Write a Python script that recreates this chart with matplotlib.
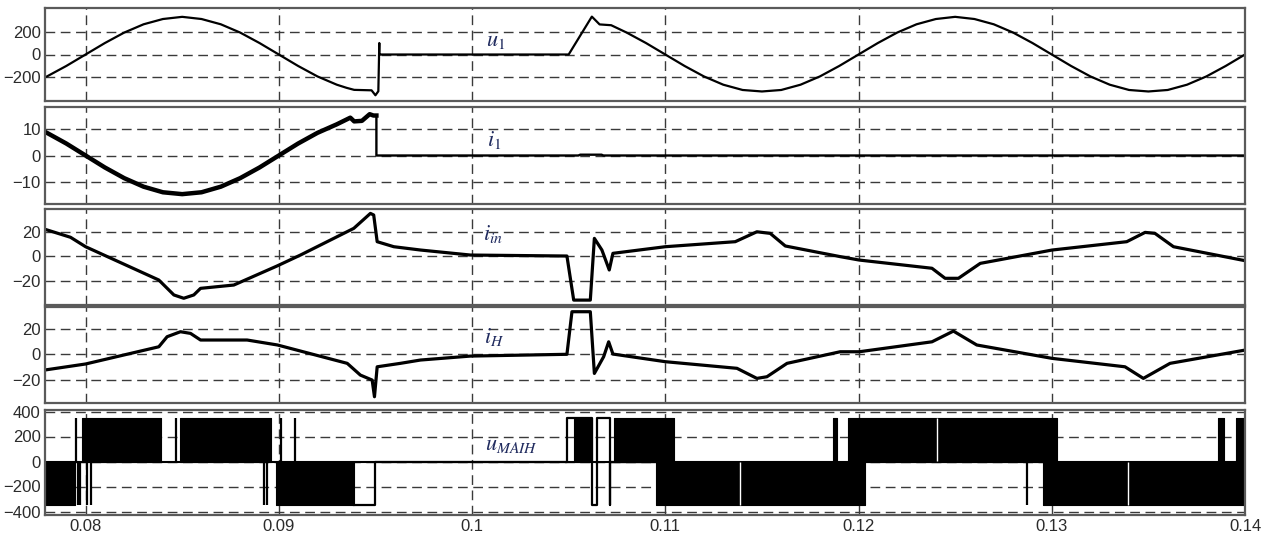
import matplotlib
matplotlib.use("Agg")
import matplotlib.pyplot as plt

plt.rcParams['font.family'] = ['Liberation Sans', 'DejaVu Sans']
plt.rcParams['mathtext.fontset'] = 'stix'
plt.rcParams['lines.solid_joinstyle'] = 'round'

# time axis ticks
x_ticks = [0.08, 0.09, 0.1, 0.11, 0.12, 0.13, 0.14]
x_tick_labels = ['0.08', '0.09', '0.1', '0.11', '0.12', '0.13', '0.14']

# u1 - supply voltage
u1_t = [0.0775, 0.078, 0.079, 0.080, 0.081, 0.082, 0.083, 0.084, 0.085, 0.086,
        0.087, 0.088, 0.089, 0.090, 0.091, 0.092, 0.093, 0.0935, 0.0939, 0.0948,
        0.0950, 0.09515, 0.0952, 0.0952, 0.1050, 0.1062, 0.1066, 0.1072,
        0.108, 0.109, 0.110, 0.111, 0.112, 0.113, 0.114, 0.115, 0.116, 0.117,
        0.118, 0.119, 0.120, 0.121, 0.122, 0.123, 0.124, 0.125, 0.126, 0.127,
        0.128, 0.129, 0.130, 0.131, 0.132, 0.133, 0.134, 0.135, 0.136, 0.137,
        0.138, 0.139, 0.140]
u1_v = [-230, -191, -100, 0, 100, 191, 263, 309, 328, 309,
        263, 191, 100, 0, -100, -191, -263, -290, -308, -312,
        -355, -320, 100, 0, 0, 330, 262, 255,
        191, 100, 0, -100, -191, -263, -309, -322, -309, -263,
        -191, -100, 0, 100, 191, 263, 309, 328, 309, 263,
        191, 100, 0, -100, -191, -263, -309, -322, -309, -263,
        -191, -100, 0]

# i1 - supply current
i1_t = [0.0775, 0.078, 0.079, 0.080, 0.081, 0.082, 0.083, 0.084, 0.085, 0.086,
        0.087, 0.088, 0.089, 0.090, 0.091, 0.092, 0.093, 0.0937, 0.0939, 0.0943,
        0.0947, 0.0949, 0.09505, 0.09505, 0.1055, 0.1056, 0.1067, 0.1068, 0.140]
i1_v = [10.3, 8.5, 4.5, 0, -4.5, -8.5, -11.7, -13.8, -14.5, -13.8,
        -11.7, -8.5, -4.5, 0, 4.5, 8.5, 11.7, 14.2, 12.8, 13.0,
        15.5, 15.0, 15.0, 0, 0, 0.3, 0.3, 0, 0]
i1_split = 23

# i_in
iin_t = [0.0775, 0.07922, 0.0800, 0.08379, 0.08457, 0.08508, 0.0856, 0.08595, 0.08767,
         0.0899, 0.09112, 0.09388, 0.09474, 0.09491, 0.09509, 0.09595, 0.09733, 0.09991,
         0.10491, 0.10526, 0.10612, 0.10633, 0.10672, 0.1071, 0.10729, 0.1100, 0.11362,
         0.11474, 0.11543, 0.11621, 0.11905, 0.12004, 0.1238, 0.12448, 0.12517, 0.1263,
         0.13002, 0.13388, 0.13483, 0.13534, 0.1363, 0.1400]
iin_v = [23.8, 15.3, 7.6, -19.6, -31.8, -34.5, -31.8, -26.4, -23.7,
         -8.2, 0.8, 22.6, 34.8, 33.5, 11.7, 7.6, 4.9, 0.8,
         0.0, -36.0, -36.0, 14.4, 4.9, -11.4, 2.2, 7.6, 11.7,
         19.8, 18.5, 8.2, -0.5, -3.3, -10.0, -18.2, -18.2, -6.0,
         4.9, 11.7, 19.3, 18.5, 7.6, -3.8]

# i_H
iH_t = [0.0775, 0.0800, 0.08379, 0.08422, 0.08491, 0.08543, 0.08595, 0.08836, 0.08993,
        0.09354, 0.09422, 0.09483, 0.09495, 0.09509, 0.09629, 0.09733, 0.09991, 0.10491,
        0.10517, 0.10612, 0.10633, 0.10681, 0.10707, 0.10729, 0.1100, 0.11371, 0.11474,
        0.11526, 0.1163, 0.11905, 0.12004, 0.1238, 0.12491, 0.12612, 0.13002, 0.13379,
        0.13474, 0.13612, 0.1400]
iH_v = [-13.4, -7.8, 5.7, 13.6, 17.5, 16.2, 11.0, 11.0, 7.1,
        -7.3, -16.5, -20.4, -33.5, -10.0, -7.3, -4.7, -1.6, -0.2,
        33.2, 33.2, -15.2, -2.1, 9.6, 0.0, -6.0, -11.2, -19.1,
        -17.8, -7.3, 1.8, 1.8, 9.6, 18.0, 7.1, -3.4, -10.0,
        -19.1, -7.3, 3.1]

# u_MAIH - PWM output, switching blocks (start, end)
pwm_level = 350
pwm_pos_start = [0.0798, 0.08488, 0.10526, 0.10733, 0.11866, 0.11948, 0.13862, 0.13953]
pwm_pos_end = [0.08388, 0.0896, 0.1062, 0.11043, 0.11889, 0.13026, 0.13889, 0.1400]
pwm_neg_start = [0.0775, 0.08983, 0.10954, 0.12957]
pwm_neg_end = [0.07943, 0.09391, 0.12035, 0.1400]
pwm_pos_pulses = [0.0795, 0.0847, 0.0901, 0.09086]
pwm_neg_pulses = [0.0796, 0.0797, 0.08005, 0.0803, 0.08922, 0.0894, 0.12874]
pwm_pos_gaps = [0.12405]
pwm_neg_gaps = [0.11388, 0.13397]
pwm_hold_t = [0.09391, 0.0950, 0.0950, 0.10491, 0.10491, 0.1062, 0.1062, 0.10646,
              0.10646, 0.10716, 0.10716, 0.10716, 0.10954]
pwm_hold_v = [-350, -350, 0, 0, 350, 350, -350, -350, 350, 350, -350, 0, 0]

label_color = '#1f2a5e'
tick_color = '#2b2b2b'

fig = plt.figure(figsize=(12.72, 5.4), dpi=100)
left = 45 / 1272
width = 1200 / 1272
boxes = [(8, 101), (107, 204), (209, 305), (307, 403), (410, 515)]
axes = []
for top, bot in boxes:
    ax = fig.add_axes([left, 1 - bot / 540, width, (bot - top) / 540])
    axes.append(ax)

ax1, ax2, ax3, ax4, ax5 = axes

ax1.plot(u1_t, u1_v, color='black', lw=1.6)
ax1.set_ylim(-405, 405)
ax1.set_yticks([-200, 0, 200])
ax1.text(0.10074, 70, r'$u_{\mathit{1}}$', color=label_color, fontsize=16)

ax2.plot(i1_t, i1_v, color='black', lw=1.7)
ax2.plot(i1_t[:i1_split], i1_v[:i1_split], color='black', lw=3.2)
ax2.set_ylim(-18.2, 18.2)
ax2.set_yticks([-10, 0, 10])
ax2.text(0.10077, 3.6, r'$i_{\mathit{1}}$', color=label_color, fontsize=16)

ax3.plot(iin_t, iin_v, color='black', lw=2.3)
ax3.set_ylim(-40, 38.4)
ax3.set_yticks([-20, 0, 20])
ax3.text(0.10057, 13.0, r'$i_{in}$', color=label_color, fontsize=16)

ax4.plot(iH_t, iH_v, color='black', lw=2.3)
ax4.set_ylim(-38.4, 36.9)
ax4.set_yticks([-20, 0, 20])
ax4.text(0.1006, 9.0, r'$i_H$', color=label_color, fontsize=16)

ax5.plot([0.0775, 0.1400], [0, 0], color='black', lw=1.5)
ax5.broken_barh([(s, e - s) for s, e in zip(pwm_pos_start, pwm_pos_end)],
                (0, pwm_level), facecolor='black', edgecolor='black', lw=0.8)
ax5.broken_barh([(s, e - s) for s, e in zip(pwm_neg_start, pwm_neg_end)],
                (-pwm_level, pwm_level), facecolor='black', edgecolor='black', lw=0.8)
ax5.vlines(pwm_pos_pulses, 0, pwm_level, color='black', lw=1.6)
ax5.vlines(pwm_neg_pulses, -pwm_level, 0, color='black', lw=1.6)
ax5.vlines(pwm_pos_gaps, 2, pwm_level - 2, color='white', lw=1.0)
ax5.vlines(pwm_neg_gaps, -pwm_level + 2, -2, color='white', lw=1.0)
ax5.plot(pwm_hold_t, pwm_hold_v, color='black', lw=1.6)
ax5.set_ylim(-428, 412)
ax5.set_yticks([-400, -200, 0, 200, 400])
ax5.text(0.10069, 92, r'$u_{MAIH}$', color=label_color, fontsize=16)

for ax in axes:
    ax.set_xlim(0.0779, 0.14)
    ax.set_xticks(x_ticks)
    ax.grid(True, linestyle=(0, (7, 4)), color='#3a3a3a', linewidth=1.0)
    ax.set_axisbelow(True)
    ax.tick_params(length=0, pad=3, labelsize=12, colors=tick_color)
    for sp in ax.spines.values():
        sp.set_color('#5a5a5a')
        sp.set_linewidth(1.6)
    if ax is not ax5:
        ax.set_xticklabels([])

ax5.set_xticklabels(x_tick_labels)

fig.savefig('out.png', dpi=100)
